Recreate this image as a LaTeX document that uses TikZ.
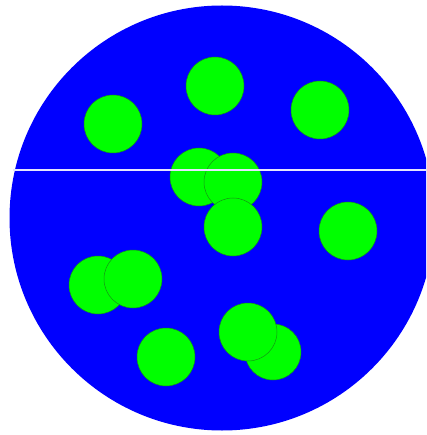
\documentclass[tikz,border=0pt]{standalone}
\begin{document}
\begin{tikzpicture}[x=1pt,y=-1pt,
  ball/.style={circle,fill={rgb,255:red,0;green,255;blue,0},draw={rgb,255:red,20;green,150;blue,20},line width=0.5pt,minimum size=58pt,inner sep=0pt},
  bigr/.style={fill={rgb,255:red,0;green,0;blue,255}}]
\clip (0,0) rectangle (426,435);
\fill[white] (0,0) rectangle (426,435);
\fill[bigr] (222,218) circle (212.5);
\node[ball] (g1) at (113,124) {};
\node[ball] (g2) at (215,86) {};
\node[ball] (g3) at (320,110) {};
\node[ball] (g4) at (199,177) {};
\node[ball] (g5) at (233,182) {};
\node[ball] (g6) at (233,227) {};
\node[ball] (g7) at (348,231) {};
\node[ball] (g8) at (98,285) {};
\node[ball] (g9) at (133,279) {};
\node[ball] (g10) at (166,357) {};
\node[ball,minimum size=56pt] (g12) at (273,352) {};
\node[ball] (g11) at (248,332) {};
\coordinate (l0) at (13,170);
\coordinate (l1) at (426,170);
\draw[white!90!blue,line width=1.3pt] (l0) -- (l1);
\end{tikzpicture}
\end{document}
